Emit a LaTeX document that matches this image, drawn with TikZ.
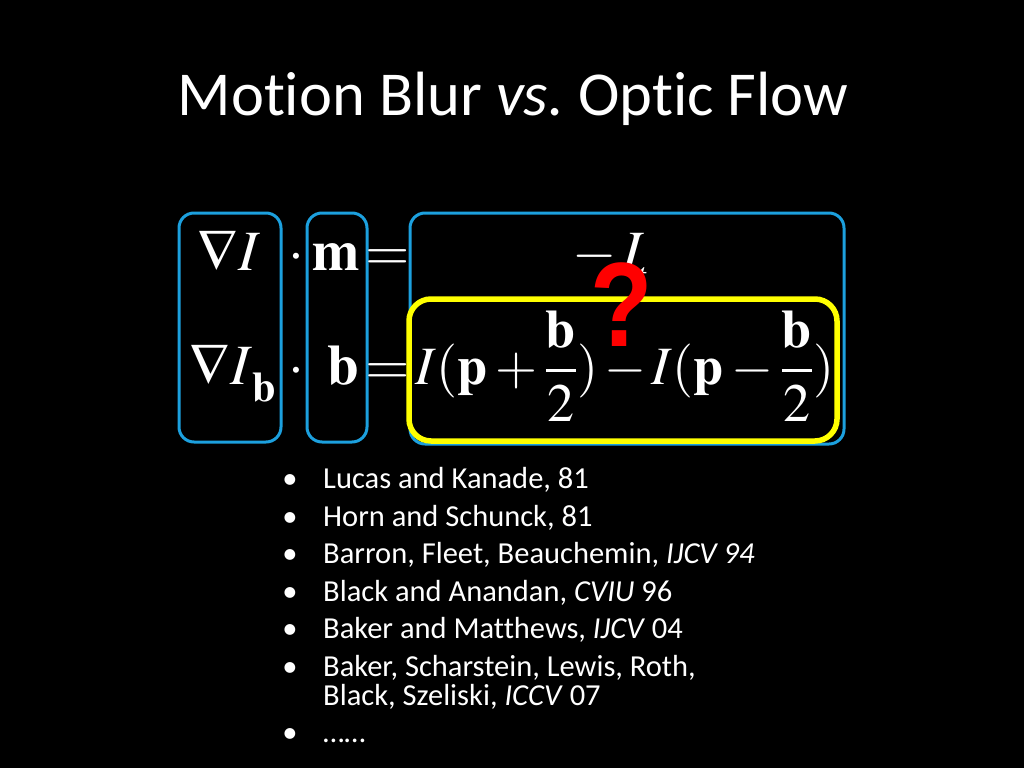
\documentclass[tikz,border=0pt]{standalone}
\usepackage{amsmath}
\usepackage{mathptmx}
\usepackage[no-math]{fontspec}
\setmainfont{Carlito}[Ligatures={NoCommon,NoRequired}]
\newfontfamily\qfont{Liberation Sans}
\definecolor{boxblue}{RGB}{28,160,222}
\definecolor{markyellow}{RGB}{255,255,0}

\begin{document}
\begin{tikzpicture}[x=1pt, y=-1pt]
  \tikzstyle{blueframe}=[draw=boxblue, line width=3pt, rounded corners=15pt]
  \tikzstyle{yellowframe}=[draw=markyellow, line width=5.5pt, rounded corners=22pt]
  \tikzstyle{eqn}=[text=white, inner sep=0pt, anchor=base,
    font=\fontsize{57}{60}\selectfont]
  \tikzstyle{item}=[text=white, inner sep=0pt, anchor=base west, align=left,
    font=\fontsize{30.5}{29}\selectfont]
  \fill[black] (0,0) rectangle (1024,768);

  % title
  \node[text=white, inner sep=0pt, anchor=base,
    font=\fontsize{62.5}{70}\selectfont] (title) at (513,115)
    {Motion Blur \textit{vs.}\ Optic Flow};

  % frames
  \draw[blueframe] (179,213) rectangle (281,442);
  \draw[blueframe] (307,213) rectangle (367,442);
  \draw[blueframe] (410,213) rectangle (844,444);
  \draw[yellowframe] (409,299) rectangle (837,441);

  % first equation
  \node[eqn] (gradI) at (229,270) {$\nabla I$};
  \node[eqn] (dotm) at (296,270) {$\cdot$};
  \node[eqn] (m) at (336,270) {$\mathbf{m}$};
  \node[eqn] (eqtop) at (388,270) {$=$};
  \node[eqn, anchor=base west] (It) at (572,270)
    {${-}\,I_{\!\raisebox{-12pt}{$\scriptstyle t$}}$};

  % second equation
  \node[eqn] (gradIb) at (233,384)
    {$\nabla I_{\mkern2mu\raisebox{-9pt}{$\scriptstyle\mathbf{b}$}}$};
  \node[eqn] (dotb) at (296,384) {$\cdot$};
  \node[eqn] (b) at (343,384) {$\mathbf{b}$};
  \node[eqn] (eqbot) at (388,384) {$=$};
  \node[eqn, font=\fontsize{54}{60}\selectfont] (rhs) at (625,384)
    {$I(\mathbf{p}+\dfrac{\mathbf{b}}{2})\,{-}\,I(\mathbf{p}-\dfrac{\mathbf{b}}{2})$};

  % question mark
  \node[text=red, inner sep=0pt, font=\qfont\bfseries\fontsize{120}{120}\selectfont]
    (qmark) at (622,305) {\scalebox{0.85}[1]{?}};

  % references
  \foreach \y/\n in {488/1, 526/2, 563/3, 601/4, 638/5, 676/6, 742/7}
    \node[item, anchor=base] (dot\n) at (290,\y) {•};
  \node[item] (lucas) at (323,488) {Lucas and Kanade, 81};
  \node[item] (horn) at (323,526) {Horn and Schunck, 81};
  \node[item] (barron) at (323,563) {Barron, Fleet, Beauchemin, \textit{IJCV 94}};
  \node[item] (black) at (323,601) {Black and Anandan, \textit{CVIU} 96};
  \node[item] (baker) at (323,638) {Baker and Matthews, \textit{IJCV} 04};
  \node[item] (bakerb) at (323,705)
    {Baker, Scharstein, Lewis, Roth,\\Black, Szeliski, \textit{ICCV} 07};
  \node[item] (more) at (323,742) {……};
\end{tikzpicture}
\end{document}
